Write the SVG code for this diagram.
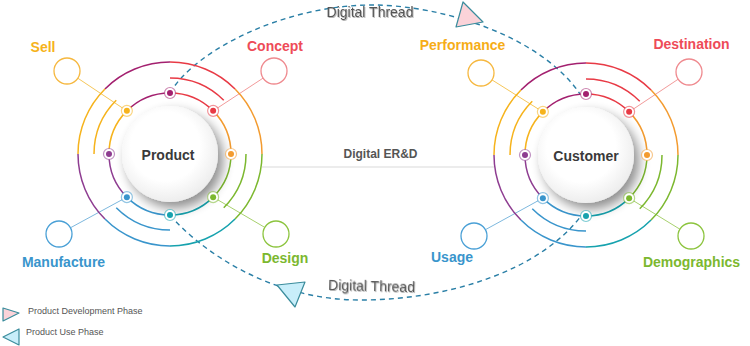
<svg xmlns="http://www.w3.org/2000/svg" width="750" height="346" viewBox="0 0 750 346">
<style>
.ring{fill:none;stroke-width:1.5}
.lbl{font-family:"Liberation Sans",Arial,sans-serif;font-weight:bold;font-size:14px;text-anchor:middle}
.ctr{font-family:"Liberation Sans",Arial,sans-serif;font-weight:bold;font-size:14px;fill:#3a3a3a;text-anchor:middle}
.lc{fill:#fff;stroke-width:1.3}
.ln{stroke-width:1;fill:none}
.thread{fill:none;stroke:#2a7fa6;stroke-width:1.4;stroke-dasharray:5 4}
.dt{font-family:"Liberation Sans",Arial,sans-serif;font-size:14px;fill:#555;text-anchor:middle}
.lg{font-family:"Liberation Sans",Arial,sans-serif;font-size:9px;fill:#555}
.tri{stroke:#3a8c9c;stroke-width:1.2;stroke-linejoin:round}
.mag{stroke:#a3206f}.red{stroke:#e83a45}.org{stroke:#f39b2f}.grn{stroke:#7cb82f}
.tel{stroke:#16a2ae}.blu{stroke:#3995cc}.pur{stroke:#8e3d91}.yel{stroke:#f6b31c}
</style>
<defs>
<filter id="sh" x="-40%" y="-40%" width="190%" height="190%">
<feGaussianBlur in="SourceAlpha" stdDeviation="6"/>
<feOffset dx="5" dy="6" result="b"/>
<feComponentTransfer><feFuncA type="linear" slope="0.45"/></feComponentTransfer>
<feMerge><feMergeNode/><feMergeNode in="SourceGraphic"/></feMerge>
</filter>
<filter id="ts" x="-10%" y="-30%" width="120%" height="160%">
<feDropShadow dx="0.8" dy="1" stdDeviation="0.7" flood-color="#000" flood-opacity="0.3"/>
</filter>
<radialGradient id="wg" cx="45%" cy="42%" r="60%">
<stop offset="0.6" stop-color="#ffffff"/>
<stop offset="1" stop-color="#ececec"/>
</radialGradient>
<g id="rings">
<path class="ring org" d="M92,0A92,92 0 0 0 65.05,-65.05"/>
<path class="ring red" d="M65.05,-65.05A92,92 0 0 0 0,-92"/>
<path class="ring mag" d="M0,-92A92,92 0 0 0 -65.05,-65.05"/>
<path class="ring yel" d="M-65.05,-65.05A92,92 0 0 0 -92,0"/>
<path class="ring pur" d="M-92,0A92,92 0 0 0 -65.05,65.05"/>
<path class="ring blu" d="M-65.05,65.05A92,92 0 0 0 0,92"/>
<path class="ring tel" d="M0,92A92,92 0 0 0 65.05,65.05"/>
<path class="ring grn" d="M65.05,65.05A92,92 0 0 0 92,0"/>
<path class="ring red" d="M53.74,-53.74A76,76 0 0 0 0,-76"/>
<path class="ring yel" d="M-53.74,-53.74A76,76 0 0 0 -76,0"/>
<path class="ring blu" d="M-53.74,53.74A76,76 0 0 0 0,76"/>
<path class="ring grn" d="M53.74,53.74A76,76 0 0 0 76,0"/>
<path class="ring org" d="M61,0A61,61 0 0 0 43.13,-43.13"/>
<path class="ring red" d="M43.13,-43.13A61,61 0 0 0 0,-61"/>
<path class="ring mag" d="M0,-61A61,61 0 0 0 -43.13,-43.13"/>
<path class="ring yel" d="M-43.13,-43.13A61,61 0 0 0 -61,0"/>
<path class="ring pur" d="M-61,0A61,61 0 0 0 -43.13,43.13"/>
<path class="ring blu" d="M-43.13,43.13A61,61 0 0 0 0,61"/>
<path class="ring tel" d="M0,61A61,61 0 0 0 43.13,43.13"/>
<path class="ring grn" d="M43.13,43.13A61,61 0 0 0 61,0"/>
<circle r="48" fill="url(#wg)" filter="url(#sh)"/>
<g stroke-width="1.2">
<circle cx="61" cy="0" r="5.5" fill="#fff" stroke="#f39b2f" stroke-opacity="0.55"/><circle cx="61" cy="0" r="3" fill="#f39b2f"/>
<circle cx="43.13" cy="-43.13" r="5.5" fill="#fff" stroke="#e83a45" stroke-opacity="0.55"/><circle cx="43.13" cy="-43.13" r="3" fill="#e83a45"/>
<circle cx="0" cy="-61" r="5.5" fill="#fff" stroke="#a3206f" stroke-opacity="0.55"/><circle cx="0" cy="-61" r="3" fill="#a3206f"/>
<circle cx="-43.13" cy="-43.13" r="5.5" fill="#fff" stroke="#f6b31c" stroke-opacity="0.55"/><circle cx="-43.13" cy="-43.13" r="3" fill="#f6b31c"/>
<circle cx="-61" cy="0" r="5.5" fill="#fff" stroke="#8e3d91" stroke-opacity="0.55"/><circle cx="-61" cy="0" r="3" fill="#8e3d91"/>
<circle cx="-43.13" cy="43.13" r="5.5" fill="#fff" stroke="#3995cc" stroke-opacity="0.55"/><circle cx="-43.13" cy="43.13" r="3" fill="#3995cc"/>
<circle cx="0" cy="61" r="5.5" fill="#fff" stroke="#16a2ae" stroke-opacity="0.55"/><circle cx="0" cy="61" r="3" fill="#16a2ae"/>
<circle cx="43.13" cy="43.13" r="5.5" fill="#fff" stroke="#7cb82f" stroke-opacity="0.55"/><circle cx="43.13" cy="43.13" r="3" fill="#7cb82f"/>
</g>
</g>
</defs>
<rect width="750" height="346" fill="#fff"/>
<g id="connectors">
<line x1="262" y1="167" x2="494" y2="167" stroke="#e6e6e6" stroke-width="1.5"/>
<path class="thread" d="M170,93C195,50 285,5 372,5C440,5 540,35 580,94"/>
<path class="thread" d="M170,215C200,250 270,300 360,300C450,300 540,270 581,216"/>
<line class="ln" x1="77.8" y1="78.2" x2="127" y2="111" stroke="#f6c75a"/>
<line class="ln" x1="263.1" y1="78.1" x2="213.1" y2="110.9" stroke="#f29a9a"/>
<line class="ln" x1="70.4" y1="227.8" x2="126.9" y2="197.1" stroke="#7db8de"/>
<line class="ln" x1="264.8" y1="227.4" x2="213.1" y2="197.1" stroke="#a8d16e"/>
<line class="ln" x1="492" y1="79.9" x2="542.9" y2="111.9" stroke="#f6c75a"/>
<line class="ln" x1="678.2" y1="79.2" x2="629.1" y2="111.9" stroke="#f29a9a"/>
<line class="ln" x1="485.4" y1="229.7" x2="542.9" y2="198.1" stroke="#7db8de"/>
<line class="ln" x1="679.9" y1="229.2" x2="629.1" y2="198.1" stroke="#a8d16e"/>
<polygon class="tri" points="463,2 456,27 483,22" fill="#fbd3d9"/>
<polygon class="tri" points="277,285 305,282 295,307" fill="#c8eefa"/>
</g>
<g id="product">
<use href="#rings" transform="translate(170,154)"/>
<text class="ctr" x="168" y="160">Product</text>
</g>
<g id="customer">
<use href="#rings" transform="translate(586,155)"/>
<text class="ctr" x="586" y="161">Customer</text>
</g>
<g id="sell"><circle class="lc" cx="67" cy="71" r="13" stroke="#f6b840"/><text class="lbl" x="43" y="52" fill="#f6b31c">Sell</text></g>
<g id="concept"><circle class="lc" cx="274" cy="71" r="13" stroke="#ef8a8f"/><text class="lbl" x="275" y="51" fill="#ee4b58">Concept</text></g>
<g id="manufacture"><circle class="lc" cx="59" cy="234" r="13" stroke="#4aa0d6"/><text class="lbl" x="63.5" y="267" fill="#3995cc">Manufacture</text></g>
<g id="design"><circle class="lc" cx="276" cy="234" r="13" stroke="#8cc43e"/><text class="lbl" x="285" y="263" fill="#7cb82f">Design</text></g>
<g id="performance"><circle class="lc" cx="481" cy="73" r="13" stroke="#f6b840"/><text class="lbl" x="462.5" y="50" fill="#f6ad17">Performance</text></g>
<g id="destination"><circle class="lc" cx="689" cy="72" r="13" stroke="#ef8a8f"/><text class="lbl" x="691.5" y="49" fill="#ee4b58">Destination</text></g>
<g id="usage"><circle class="lc" cx="474" cy="236" r="13" stroke="#4aa0d6"/><text class="lbl" x="452" y="262" fill="#3995cc">Usage</text></g>
<g id="demographics"><circle class="lc" cx="691" cy="236" r="13" stroke="#8cc43e"/><text class="lbl" x="691.5" y="267" fill="#7cb82f">Demographics</text></g>
<text x="380.5" y="158" font-family="'Liberation Sans',Arial,sans-serif" font-weight="bold" font-size="12" fill="#555" text-anchor="middle">Digital ER&amp;D</text>
<text class="dt" x="370" y="17" filter="url(#ts)">Digital Thread</text>
<text class="dt" x="371.5" y="291" filter="url(#ts)" transform="rotate(1.5 371.5 291)">Digital Thread</text>
<g id="legend">
<polygon class="tri" points="3,308 3,321 19,313" fill="#fbd3d9"/>
<text class="lg" x="28" y="314">Product Development Phase</text>
<polygon class="tri" points="19,329 19,345 3,337" fill="#c8eefa"/>
<text class="lg" x="26" y="335">Product Use Phase</text>
</g>
</svg>
